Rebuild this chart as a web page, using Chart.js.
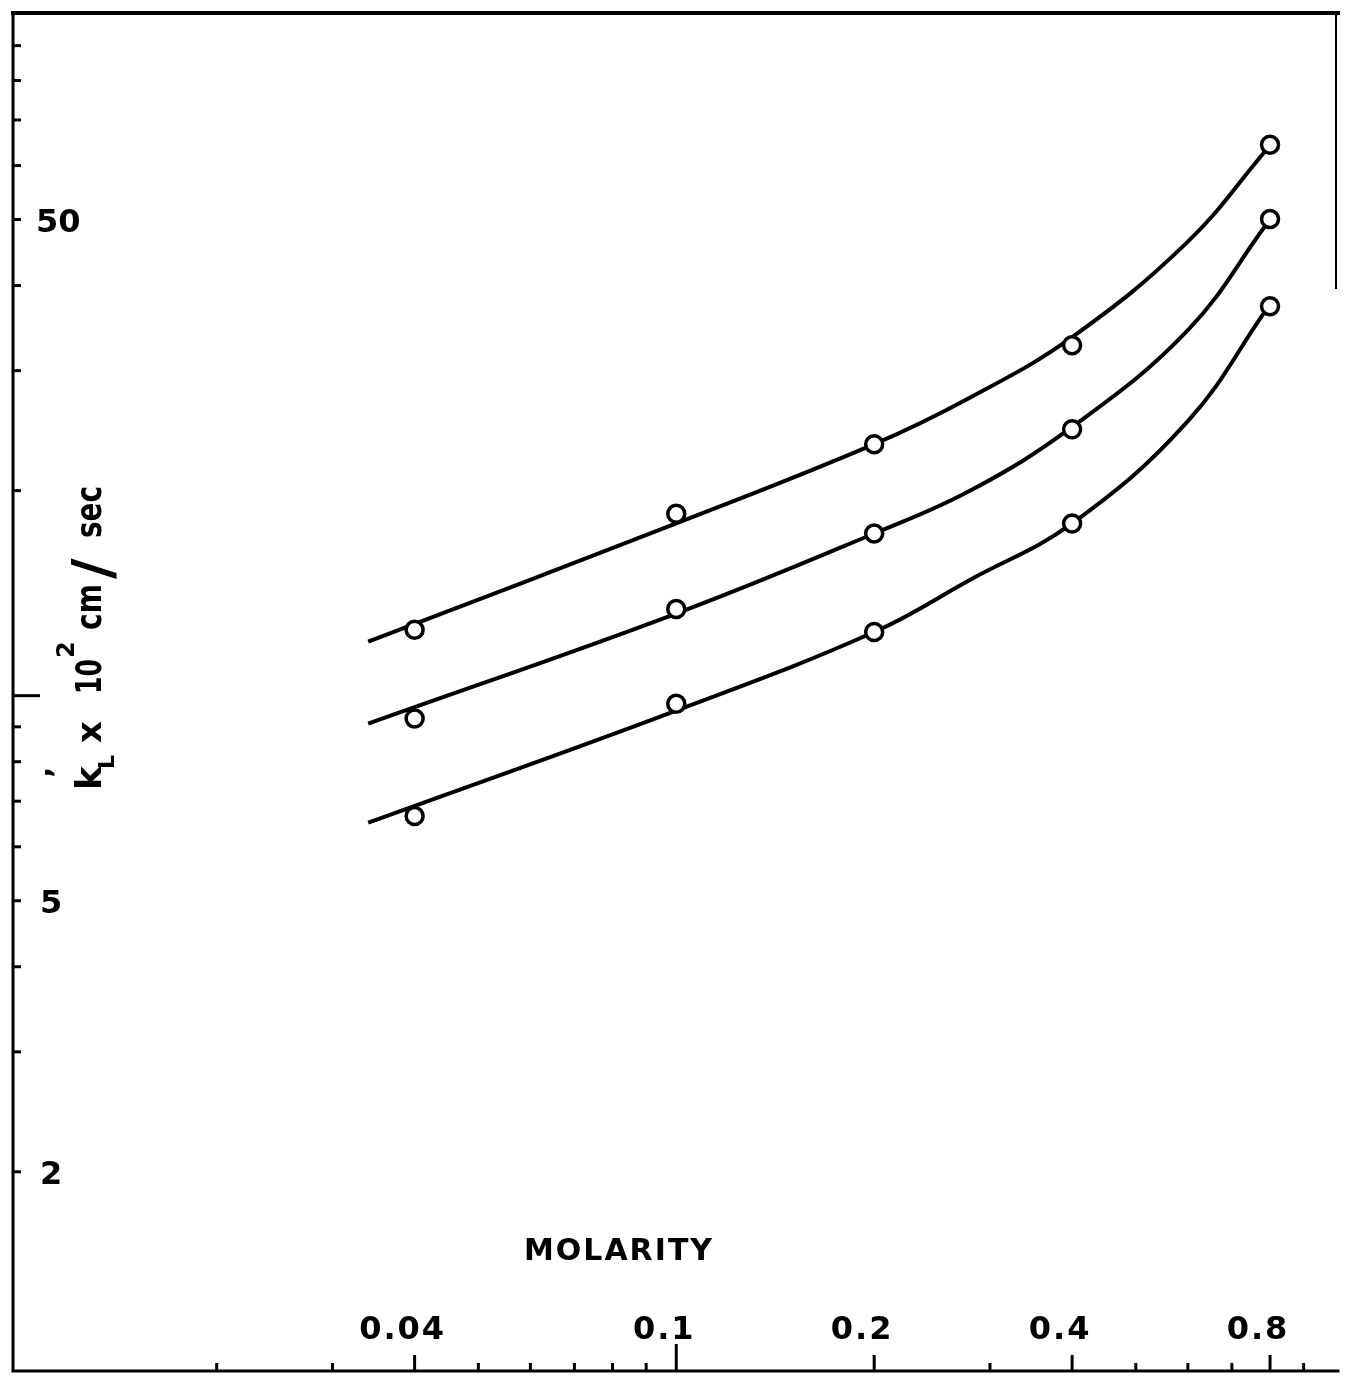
<!DOCTYPE html>
<html>
<head>
<meta charset="utf-8">
<script src="https://cdn.jsdelivr.net/npm/chart.js@4/dist/chart.umd.min.js"></script>
<style>
	html, body { margin: 0; padding: 0; background: #fff; overflow: hidden; }
	#wrap { width: 1350px; height: 1383px; }
	canvas { display: block; }
</style>
</head>
<body>
<div id="wrap"><canvas id="molarity-chart" width="1350" height="1383"></canvas></div>
<script>
// measured points (circles)
var molarity = [0.04, 0.1, 0.2, 0.4, 0.8];
var kTop = [12.5, 18.5, 23.4, 32.7, 64.4];
var kMid = [9.26, 13.4, 17.3, 24.6, 50.1];
var kLow = [6.66, 9.73, 12.4, 17.9, 37.3];

// hand drawn curves
var curveX = [0.034, 0.1, 0.2, 0.28, 0.4, 0.6, 0.79];
var curveTop = [12.0, 17.9, 23.4, 27.4, 33.6, 46.4, 63.3];
var curveMid = [9.10, 13.2, 17.3, 20.0, 24.8, 34.4, 49.2];
var curveLow = [6.51, 9.51, 12.4, 14.8, 17.9, 25.3, 36.9];

// axes
var xTicks = [0.02, 0.03, 0.04, 0.05, 0.06, 0.07, 0.08, 0.09, 0.1, 0.2, 0.3, 0.4, 0.5, 0.6, 0.7, 0.8, 0.9];
var xLabels = ["0.04", "0.1", "0.2", "0.4", "0.8"];
var yTicks = [2, 3, 4, 5, 6, 7, 8, 9, 10, 20, 30, 40, 50, 60, 70, 80, 90];
var yLabels = ["50", "5", "2"];

var FONT = '"DejaVu Sans", "Liberation Sans", sans-serif';

function toPoints(xs, ys) {
	var out = [];
	for(var i = 0; i < xs.length; i++)
		out.push({x: xs[i], y: ys[i]});
	return out;
}

function curveSet(ys) {
	return {
		data: toPoints(curveX, ys),
		showLine: true,
		borderColor: "#000",
		borderWidth: 4,
		pointRadius: 0,
		tension: 0.4,
		order: 2
	};
}

function pointSet(ys) {
	return {
		data: toPoints(molarity, ys),
		showLine: false,
		borderColor: "#000",
		backgroundColor: "#fff",
		borderWidth: 3.5,
		pointRadius: 8.5,
		order: 1
	};
}

var paperAxes = {
	id: "paperAxes",
	beforeDatasetsDraw: function(chart) {
		var ctx = chart.ctx;
		var a = chart.chartArea;
		var xs = chart.scales.x;
		var ys = chart.scales.y;

		ctx.save();
		ctx.strokeStyle = "#000";
		ctx.lineCap = "square";

		// frame: top, left, bottom
		ctx.lineWidth = 4;
		ctx.beginPath();
		ctx.moveTo(a.left, a.top);
		ctx.lineTo(a.right, a.top);
		ctx.stroke();

		ctx.lineWidth = 3;
		ctx.beginPath();
		ctx.moveTo(a.left, a.top);
		ctx.lineTo(a.left, a.bottom);
		ctx.lineTo(a.right, a.bottom);
		ctx.stroke();

		// bit of right edge left on the scan
		ctx.lineWidth = 2;
		ctx.beginPath();
		ctx.moveTo(a.right - 2, a.top);
		ctx.lineTo(a.right - 2, a.top + 275);
		ctx.stroke();

		// inward ticks
		ctx.lineWidth = 3;
		ctx.lineCap = "butt";
		for(var i = 0; i < yTicks.length; i++) {
			var py = ys.getPixelForValue(yTicks[i]);
			var len = yTicks[i] === 10 ? 27 : 8;
			ctx.beginPath();
			ctx.moveTo(a.left, py);
			ctx.lineTo(a.left + len, py);
			ctx.stroke();
		}
		for(var j = 0; j < xTicks.length; j++) {
			var px = xs.getPixelForValue(xTicks[j]);
			var label = xLabels.indexOf(String(xTicks[j])) >= 0;
			var h = xTicks[j] === 0.1 ? 27 : (label ? 16 : 8);
			ctx.beginPath();
			ctx.moveTo(px, a.bottom);
			ctx.lineTo(px, a.bottom - h);
			ctx.stroke();
		}

		// tick labels, inside the frame
		ctx.fillStyle = "#000";
		ctx.textBaseline = "middle";
		ctx.textAlign = "left";
		ctx.font = "bold 32px " + FONT;
		for(var k = 0; k < yLabels.length; k++)
			ctx.fillText(yLabels[k], a.left + 23 + (yLabels[k].length === 1 ? 4 : 0), ys.getPixelForValue(Number(yLabels[k])) + 4);

		ctx.textAlign = "center";
		ctx.font = "bold 32px " + FONT;
		ctx.letterSpacing = "2px";
		for(var m = 0; m < xLabels.length; m++)
			ctx.fillText(xLabels[m], xs.getPixelForValue(Number(xLabels[m])) - 12, 1331);

		// x title
		ctx.font = "bold 30px " + FONT;
		ctx.fillText("MOLARITY", 619, 1252);
		ctx.letterSpacing = "0px";

		// y title, rotated
		ctx.translate(101, 790);
		ctx.rotate(-Math.PI / 2);
		ctx.textAlign = "left";
		ctx.textBaseline = "alphabetic";
		ctx.font = "bold 36px " + FONT;
		ctx.fillText("k", 0, 0, 28);
		ctx.font = "bold 30px " + FONT;
		ctx.fillText("\u2019", 12, -34);
		ctx.font = "bold 22px " + FONT;
		ctx.fillText("L", 21, 13);
		ctx.font = "bold 34px " + FONT;
		ctx.fillText("x", 47, 0, 24);
		ctx.font = "bold 36px " + FONT;
		ctx.fillText("10", 96, 0, 35);
		ctx.font = "bold 24px " + FONT;
		ctx.fillText("2", 132, -27);
		ctx.font = "bold 36px " + FONT;
		ctx.fillText("cm", 160, 0, 46);
		ctx.font = "bold 56px " + FONT;
		ctx.fillText("/", 211, 10, 40);
		ctx.font = "bold 36px " + FONT;
		ctx.fillText("sec", 252, 0, 52);

		ctx.restore();
	}
};

window.onload = function() {
	new Chart(document.getElementById("molarity-chart"), {
		type: "scatter",
		data: {
			datasets: [
				curveSet(curveTop),
				curveSet(curveMid),
				curveSet(curveLow),
				pointSet(kTop),
				pointSet(kMid),
				pointSet(kLow)
			]
		},
		options: {
			responsive: false,
			devicePixelRatio: 1,
			animation: false,
			layout: {
				padding: {left: 13, top: 13, right: 0, bottom: 3}
			},
			plugins: {
				legend: {display: false},
				tooltip: {enabled: false}
			},
			scales: {
				x: {type: "logarithmic", display: false, min: 0.0098, max: 1.015},
				y: {type: "logarithmic", display: false, min: 1.02, max: 100.5}
			}
		},
		plugins: [paperAxes]
	});
};
</script>
</body>
</html>
